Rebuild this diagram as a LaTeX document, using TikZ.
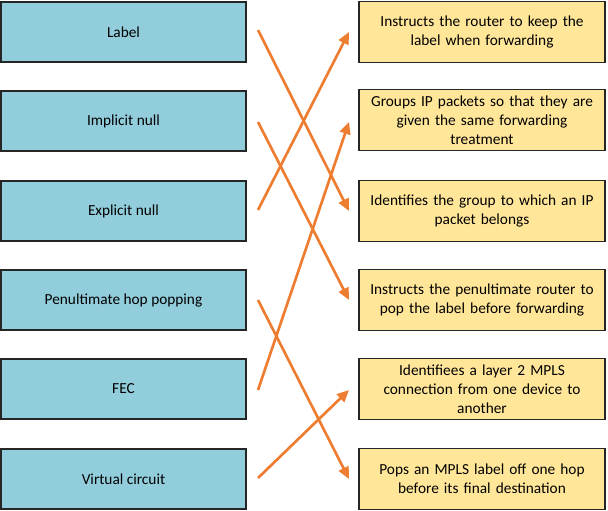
\documentclass[tikz,border=0pt]{standalone}
\usepackage{fontspec}
\setmainfont{Carlito}
\usetikzlibrary{arrows.meta}
\definecolor{lblue}{HTML}{92CDDC}
\definecolor{lgold}{HTML}{FFE699}
\definecolor{aorange}{HTML}{ED7D31}
\begin{document}
\begin{tikzpicture}[x=0.75pt,y=-0.75pt,
  leftbox/.style={draw=black!85,line width=0.8pt,fill=lblue,minimum width=245*0.75pt,minimum height=60*0.75pt,inner sep=0pt,font=\fontsize{11.5}{14.3}\selectfont,align=center},
  rightbox/.style={draw=black!85,line width=0.8pt,fill=lgold,minimum width=246*0.75pt,minimum height=61*0.75pt,inner sep=0pt,font=\fontsize{11.5}{14.3}\selectfont,align=center,text width=240*0.75pt},
  conn/.style={draw=aorange,line width=2pt,-{Triangle[length=9pt,width=8pt]}}]
\useasboundingbox (0,0) rectangle (608,511);
\node[leftbox] (L1) at (123.5,32) {Label};
\node[leftbox] (L2) at (123.5,121) {Implicit null};
\node[leftbox] (L3) at (123.5,211) {Explicit null};
\node[leftbox] (L4) at (123.5,300) {Penultimate hop popping};
\node[leftbox] (L5) at (123.5,389) {FEC};
\node[leftbox] (L6) at (123.5,479) {Virtual circuit};
\node[rightbox] (R1) at (482,32) {Instructs the router to keep the\\label when forwarding};
\node[rightbox] (R2) at (482,120) {Groups IP packets so that they are\\given the same forwarding\\treatment};
\node[rightbox] (R3) at (482,211) {Identifies the group to which an IP\\packet belongs};
\node[rightbox] (R4) at (482,300) {Instructs the penultimate router to\\pop the label before forwarding};
\node[rightbox] (R5) at (482,389) {Identifiees a layer 2 MPLS\\connection from one device to\\another};
\node[rightbox] (R6) at (482,479) {Pops an MPLS label off one hop\\before its final destination};
\coordinate (s1) at (258,30);
\coordinate (s2) at (258,122);
\coordinate (s3) at (258,210);
\coordinate (s4) at (258,300);
\coordinate (s5) at (258,390);
\coordinate (s6) at (258,478);
\coordinate (e1) at (349,32);
\coordinate (e2) at (349,122);
\coordinate (e3) at (349,211);
\coordinate (e4) at (349,300);
\coordinate (e5) at (349,390);
\coordinate (e6) at (349,479);
\draw[conn] (s1) -- (e3);
\draw[conn] (s2) -- (e4);
\draw[conn] (s3) -- (e1);
\draw[conn] (s4) -- (e6);
\draw[conn] (s5) -- (e2);
\draw[conn] (s6) -- (e5);
\end{tikzpicture}
\end{document}
